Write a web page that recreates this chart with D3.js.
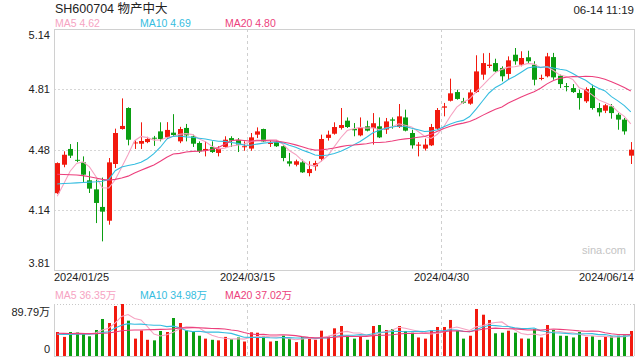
<!DOCTYPE html>
<html><head><meta charset="utf-8">
<script src="https://cdn.jsdelivr.net/npm/d3@7"></script>
<style>body{margin:0;background:#fff}svg{display:block}</style>
</head><body>
<svg id="c" width="640" height="360"></svg>
<script>
// ---- data ----
const openP  = [4.234,4.391,4.478,4.418,4.404,4.305,4.255,4.158,4.082,4.395,4.588,4.704,4.510,4.507,4.516,4.540,4.575,4.542,4.568,4.520,
                4.594,4.548,4.511,4.469,4.489,4.456,4.489,4.538,4.527,4.490,4.480,4.557,4.588,4.509,4.516,4.493,4.410,4.391,4.404,4.345,
                4.382,4.423,4.539,4.562,4.594,4.634,4.588,4.553,4.603,4.594,4.603,4.585,4.641,4.599,4.652,4.566,4.496,4.480,4.498,4.590,
                4.706,4.744,4.792,4.741,4.728,4.792,4.888,4.936,4.952,4.925,4.892,4.998,4.943,4.984,4.943,4.865,4.879,4.985,4.882,4.825,
                4.814,4.787,4.741,4.814,4.704,4.689,4.713,4.667,4.640,4.441];
const highP  = [4.404,4.465,4.505,4.516,4.437,4.355,4.309,4.320,4.428,4.590,4.757,4.708,4.527,4.625,4.545,4.550,4.625,4.626,4.670,4.600,
                4.616,4.557,4.520,4.520,4.520,4.493,4.548,4.548,4.538,4.520,4.566,4.597,4.590,4.524,4.524,4.498,4.456,4.419,4.419,4.410,
                4.413,4.557,4.579,4.625,4.704,4.652,4.621,4.652,4.634,4.676,4.652,4.649,4.652,4.726,4.695,4.584,4.516,4.535,4.616,4.704,
                4.732,4.866,4.805,4.760,4.805,4.995,5.006,5.008,4.976,4.934,4.989,5.035,5.017,5.020,4.962,4.888,5.008,5.008,4.888,4.842,
                4.836,4.805,4.818,4.833,4.732,4.726,4.726,4.676,4.649,4.516];
const lowP   = [4.230,4.377,4.428,4.405,4.296,4.235,4.069,3.968,4.060,4.373,4.585,4.498,4.478,4.478,4.510,4.495,4.520,4.533,4.545,4.510,
                4.520,4.489,4.456,4.437,4.456,4.437,4.484,4.489,4.461,4.468,4.468,4.538,4.518,4.489,4.489,4.410,4.382,4.382,4.346,4.327,
                4.358,4.410,4.524,4.557,4.585,4.594,4.548,4.548,4.575,4.502,4.538,4.561,4.590,4.594,4.575,4.480,4.437,4.469,4.494,4.584,
                4.658,4.740,4.750,4.728,4.722,4.787,4.860,4.925,4.903,4.851,4.860,4.943,4.934,4.952,4.829,4.857,4.873,4.860,4.814,4.796,
                4.787,4.695,4.732,4.695,4.658,4.676,4.645,4.584,4.557,4.395];
const closeP = [4.400,4.446,4.441,4.413,4.336,4.259,4.180,4.132,4.404,4.566,4.605,4.529,4.514,4.522,4.533,4.536,4.533,4.583,4.555,4.588,
                4.553,4.507,4.465,4.478,4.461,4.480,4.529,4.524,4.502,4.493,4.542,4.575,4.520,4.511,4.493,4.428,4.397,4.410,4.349,4.367,
                4.400,4.533,4.557,4.599,4.610,4.599,4.581,4.597,4.579,4.620,4.542,4.630,4.634,4.658,4.579,4.498,4.502,4.502,4.599,4.693,
                4.713,4.785,4.754,4.733,4.790,4.906,4.952,4.943,4.906,4.879,4.967,4.962,4.980,4.962,4.860,4.870,4.989,4.873,4.836,4.820,
                4.792,4.759,4.809,4.704,4.680,4.719,4.676,4.640,4.575,4.474];
// volume in 万 shares
const volume = [41.4,33,41.4,41.4,39.7,34,44.9,63.9,57.0,86.3,89.79,61.0,30,44.0,28,27,43.2,41.4,65.6,57.0,
                44.0,41.4,35,30,28,27,33,29,32,25,40.9,40.2,34,25,26,35,30,24,33,31,
                28,43.7,34,47.8,51.8,35,30,34,28,51.8,53.5,44.9,46.6,51.8,43.2,40.2,32,30,44.9,50.1,
                50.1,62.2,43.2,30,35,81.2,71.3,62.2,39.2,40.2,43.7,40.2,30.2,30,46.3,32,53.5,44.9,35,34.8,
                32,41.4,33,34,27.8,34,34,35,35.4,43.2];
// moving-average values before a full window exists
const ma5Head  = [4.217,4.285,4.355,4.398];
const ma10Head = [4.285,4.287,4.289,4.291,4.293,4.295,4.297,4.300,4.310];
const ma20Head = [4.338,4.337,4.336,4.334,4.331,4.325,4.318,4.310,4.305,4.310,4.318,4.328,4.345,4.360,4.375,4.390,4.410,4.432,4.450];
const vma5Head  = [38,37,38,40];
const vma10Head = [37.5,37.4,37.4,37.5,37.6,37.8,38.5,40.5,42.0];
const vma20Head = [39.2,39.0,38.8,38.7,38.6,38.6,38.7,39.2,39.8,41.5,43.5,44.5,44.8,45.0,45.3,45.6,46.0,46.3,46.8];

const priceDomain = [3.81, 5.14];
const priceTickLabels = ["3.81","4.14","4.48","4.81","5.14"];
const dateTickIndex = [0, 30, 60, 89];
const dateTickLabels = ["2024/01/25","2024/03/15","2024/04/30","2024/06/14"];
const volMax = 89.79;
const volTickLabels = ["0","89.79万"];
const title = "SH600704 物产中大";
const stamp = "06-14 11:19";
const maNames = ["MA5","MA10","MA20"];
const maLegend = ["4.62","4.69","4.80"];
const volMaLegend = ["36.35万","34.98万","37.02万"];

// ---- layout ----
const L = 54, R = 634, PT = 29, PB = 270, VT = 304, VB = 356;
const RED = "#f2190e", GREEN = "#0b9e12";
const MACOL = ["#f6a3c2", "#35bde0", "#ec3f7c"];
const FONT = "'Liberation Sans', Arial, 'Noto Sans CJK SC', sans-serif";

const svg = d3.select("#c");
const n = closeP.length;
const x = d3.scaleBand().domain(d3.range(n)).range([L, R]);
const cx = i => x(i) + x.bandwidth() / 2;
const y = d3.scaleLinear().domain(priceDomain).range([PB, PT]);
const yv = d3.scaleLinear().domain([0, volMax]).range([VB, VT]);

function ma(arr, k, head) {
  return arr.map((_, i) => i < head.length ? head[i] : d3.mean(arr.slice(i - k + 1, i + 1)));
}
const mas = [ma(closeP, 5, ma5Head), ma(closeP, 10, ma10Head), ma(closeP, 20, ma20Head)];
const vmas = [ma(volume, 5, vma5Head), ma(volume, 10, vma10Head), ma(volume, 20, vma20Head)];

// ---- grid ----
const g = svg.append("g");
const tickVals = d3.range(5).map(k => priceDomain[0] + (priceDomain[1] - priceDomain[0]) * k / 4);
tickVals.slice(1, 4).forEach(v => {
  const yy = Math.round(y(v)) + 0.5;
  g.append("line").attr("x1", L).attr("x2", R).attr("y1", yy).attr("y2", yy)
   .attr("stroke", "#d6d6d6").attr("stroke-dasharray", "2,2");
});
[30, 60].forEach(i => {
  const xx = Math.round(x(i)) + 0.5;
  g.append("line").attr("x1", xx).attr("x2", xx).attr("y1", PT).attr("y2", PB)
   .attr("stroke", "#cfcfcf").attr("stroke-dasharray", "3,3");
  g.append("line").attr("x1", xx).attr("x2", xx).attr("y1", VT).attr("y2", VB)
   .attr("stroke", "#cfcfcf").attr("stroke-dasharray", "3,3");
});
g.append("rect").attr("x", L + 0.5).attr("y", PT + 0.5).attr("width", R - L).attr("height", PB - PT)
 .attr("fill", "none").attr("stroke", "#d0d0d0");
g.append("line").attr("x1", L).attr("x2", R).attr("y1", VT + 0.5).attr("y2", VT + 0.5)
 .attr("stroke", "#c8c8c8").attr("stroke-dasharray", "1,2");
g.append("line").attr("x1", L + 0.5).attr("x2", L + 0.5).attr("y1", VT).attr("y2", VB).attr("stroke", "#d0d0d0");
g.append("line").attr("x1", R + 0.5).attr("x2", R + 0.5).attr("y1", VT).attr("y2", VB).attr("stroke", "#d0d0d0");
g.append("line").attr("x1", L).attr("x2", R).attr("y1", VB + 0.5).attr("y2", VB + 0.5).attr("stroke", "#d0d0d0");

// watermark
svg.append("text").attr("x", 626).attr("y", 254).attr("text-anchor", "end")
 .attr("font-family", FONT).attr("font-size", 11).attr("fill", "#c4c4c4").text("sina.com");

// ---- candles ----
const cg = svg.append("g");
d3.range(n).forEach(i => {
  const up = closeP[i] >= openP[i];
  const col = up ? RED : GREEN;
  const xc = Math.round(cx(i));
  cg.append("line").attr("x1", xc + 0.5).attr("x2", xc + 0.5)
    .attr("y1", y(highP[i])).attr("y2", y(lowP[i])).attr("stroke", col);
  const top = y(Math.max(openP[i], closeP[i])), bot = y(Math.min(openP[i], closeP[i]));
  cg.append("rect").attr("x", xc - 2).attr("y", top).attr("width", 5)
    .attr("height", Math.max(1, bot - top)).attr("fill", col);
});

// ---- MA lines ----
const line = d3.line().x((d, i) => cx(i)).y(d => y(d));
mas.forEach((m, k) => {
  svg.append("path").attr("d", line(m)).attr("fill", "none").attr("stroke", MACOL[k]).attr("stroke-width", 1.1);
});

// ---- volume ----
const vg = svg.append("g");
d3.range(n).forEach(i => {
  const up = closeP[i] >= openP[i];
  const xc = Math.round(cx(i));
  vg.append("rect").attr("x", xc - 1).attr("y", yv(volume[i])).attr("width", 3)
    .attr("height", VB - yv(volume[i])).attr("fill", up ? RED : GREEN);
});
const vline = d3.line().x((d, i) => cx(i)).y(d => yv(d));
vmas.forEach((m, k) => {
  svg.append("path").attr("d", vline(m)).attr("fill", "none").attr("stroke", MACOL[k]).attr("stroke-width", 1.1);
});

// ---- texts ----
const t = (xx, yy, s, opts = {}) => svg.append("text").attr("x", xx).attr("y", yy)
  .attr("font-family", FONT).attr("font-size", opts.size || 11).attr("fill", opts.fill || "#222")
  .attr("text-anchor", opts.anchor || "start").text(s);

t(L + 1, 13, title, { size: 12.5, fill: "#222" });
t(R, 14, stamp, { size: 11.5, anchor: "end" });
const legX = [L + 1, 140, 225];
maNames.forEach((nm, k) => t(legX[k], 27, nm + " " + maLegend[k], { size: 10.5, fill: MACOL[k] }));
maNames.forEach((nm, k) => t(legX[k], 299, nm + " " + volMaLegend[k], { size: 10.5, fill: MACOL[k] }));

tickVals.forEach((v, k) => {
  const yy = y(v);
  const dy = k === 4 ? 10 : (k === 0 ? -3 : 4);
  t(50, yy + dy, priceTickLabels[k], { size: 11, anchor: "end" });
});
dateTickIndex.forEach((di, k) => {
  const anchor = k === 0 ? "start" : (k === dateTickIndex.length - 1 ? "end" : "middle");
  const xx = k === 0 ? L : (k === dateTickIndex.length - 1 ? R : Math.round(x(di)) + 0.5);
  t(xx, 281, dateTickLabels[k], { size: 11, anchor });
});
t(50, yv(volMax) + 12, volTickLabels[1], { size: 11, anchor: "end" });
t(50, yv(0) - 3, volTickLabels[0], { size: 11, anchor: "end" });
</script>
</body></html>
